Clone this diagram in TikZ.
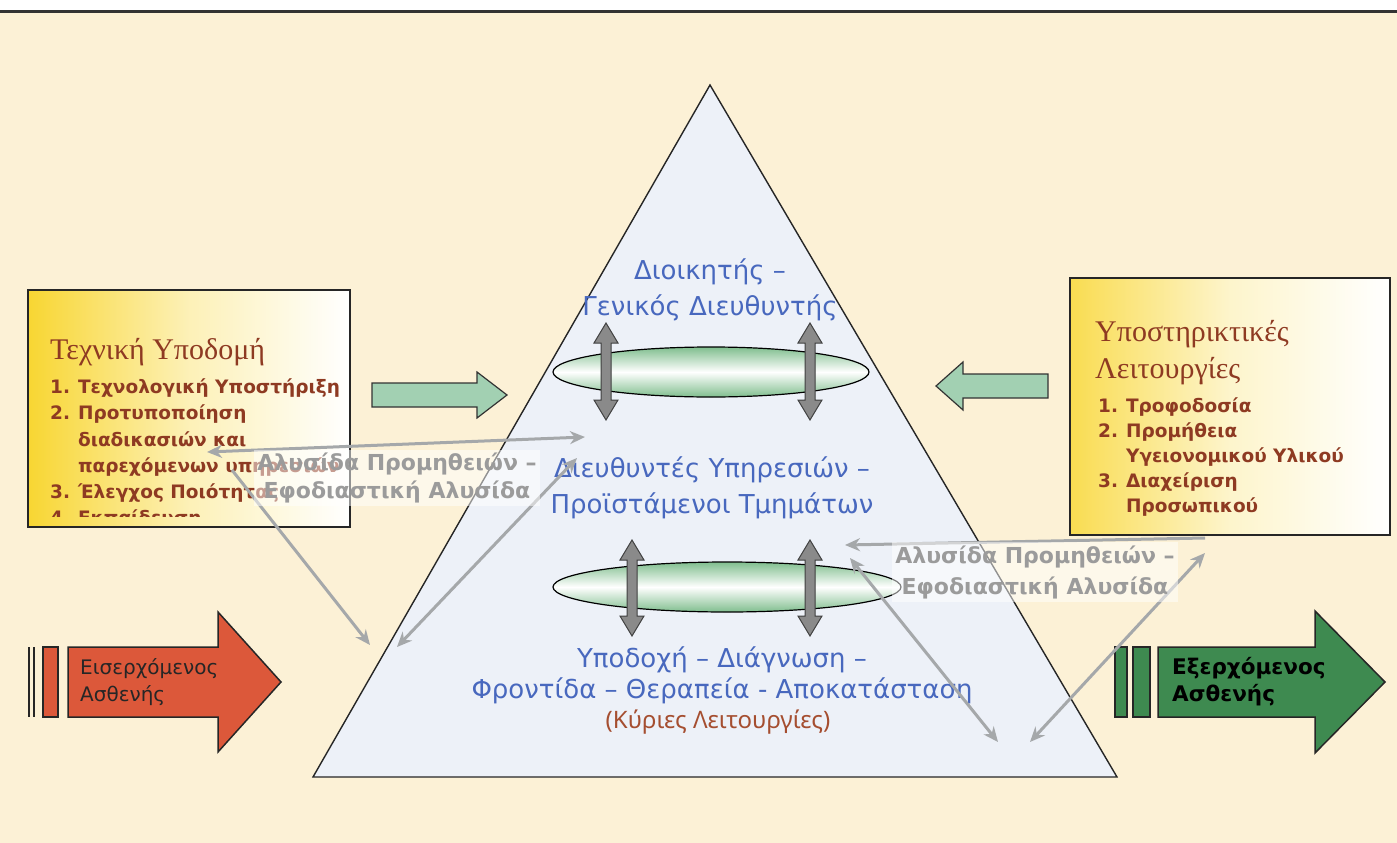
\documentclass[tikz,border=0pt]{standalone}
\usepackage{fontspec}
\setmainfont{DejaVu Sans}
\newfontfamily\headfont{Liberation Serif}
\newfontfamily\notefont{Noto Sans}
\usetikzlibrary{arrows.meta}
\definecolor{ccream}{RGB}{252,241,214}
\definecolor{ctri}{RGB}{237,241,248}
\definecolor{cblue}{RGB}{72,104,190}
\definecolor{cbrown}{RGB}{142,58,34}
\definecolor{cnote}{RGB}{165,78,48}
\definecolor{cyellow}{RGB}{248,214,50}
\definecolor{cmint}{RGB}{162,208,178}
\definecolor{cell}{RGB}{128,190,142}
\definecolor{cdarr}{RGB}{138,138,138}
\definecolor{clink}{RGB}{165,168,170}
\definecolor{clabel}{RGB}{155,155,155}
\definecolor{cred}{RGB}{220,88,58}
\definecolor{cgreen}{RGB}{62,138,80}
\tikzset{hosp/.style={x=1pt,y=-1pt},
  level/.style={text=cblue,align=center,font=\fontsize{26}{36}\selectfont},
  boxhead/.style={text=cbrown,align=left,anchor=west,inner sep=0pt,font=\headfont\fontsize{30}{37}\selectfont},
  boxlist/.style={text=cbrown,anchor=north west,inner sep=0pt},
  chain/.style={text=clabel,align=center,fill=white,fill opacity=0.5,text opacity=1,inner sep=3pt,font=\bfseries\fontsize{22}{28}\selectfont},
  link/.style={clink,line width=3pt},
  patient/.style={align=left,anchor=west,inner sep=0pt,font=\fontsize{20}{27}\selectfont},
  tip/.tip={Stealth[length=15pt,width=13pt]}}
% vertical double block arrow: x, top tip, bottom tip
\newcommand\updown[3]{%
  \filldraw[fill=cdarr,draw=black!75,line width=1pt] (#1,#2) -- ++(12,20) -- ++(-7,0)
    -- (#1+5,#3-20) -- ++(7,0) -- (#1,#3) -- ++(-12,-20) -- ++(7,0)
    -- (#1-5,#2+20) -- ++(-7,0) -- cycle;}

\begin{document}
\begin{tikzpicture}[hosp]
  \useasboundingbox (0,0) rectangle (1397,843);
  \fill[white] (0,0) rectangle (1397,843);
  \fill[ccream] (0,13) rectangle (1397,843);
  \draw[black!80,line width=3pt] (0,12) -- (1397,12);
  % pyramid
  \filldraw[fill=ctri,draw=black!85,line width=1.4pt] (710,85) -- (1117,777) -- (313,777) -- cycle;
  \shade[top color=cell,bottom color=cell,middle color=white,draw=black,line width=1.2pt]
    (711,372) ellipse [x radius=158,y radius=25];
  \shade[top color=cell,bottom color=cell,middle color=white,draw=black,line width=1.2pt]
    (727,587) ellipse [x radius=174,y radius=25];
  \updown{606}{323}{420} \updown{810}{323}{420}
  \updown{632}{540}{636} \updown{810}{540}{636}
  \node[level] (top) at (710,290) {Διοικητής –\\Γενικός Διευθυντής};
  \node[level] (mid) at (712,488) {Διευθυντές Υπηρεσιών –\\Προϊστάμενοι Τμημάτων};
  \node[level,font=\fontsize{26}{31}\selectfont] (base) at (722,675)
    {Υποδοχή – Διάγνωση –\\Φροντίδα – Θεραπεία - Αποκατάσταση};
  \node[text=cnote,font=\notefont\fontsize{24}{28}\selectfont] (main) at (718,722) {(Κύριες Λειτουργίες)};
  % side boxes
  \shade[left color=cyellow,right color=white,middle color=cyellow!35] (28,290) rectangle (350,527);
  \begin{scope}
    \clip (28,290) rectangle (346,516);
    \node[boxhead] (tech) at (50,352) {Τεχνική Υποδομή};
    \node[boxlist] (techlist) at (50,375) {\fontsize{18.5}{26.25}\selectfont\bfseries
      \begin{tabular}{@{}l@{\hspace{8pt}}l@{}}
      1. & Τεχνολογική Υποστήριξη\\
      2. & Προτυποποίηση\\
         & διαδικασιών και\\
         & παρεχόμενων υπηρεσιών\\
      3. & Έλεγχος Ποιότητας\\
      4. & Εκπαίδευση
      \end{tabular}};
  \end{scope}
  \draw[black!85,line width=1.6pt] (28,290) rectangle (350,527);
  \shade[left color=cyellow!85,right color=white,middle color=cyellow!25] (1070,278) rectangle (1390,535);
  \draw[black!85,line width=1.6pt] (1070,278) rectangle (1390,535);
  \node[boxhead] (supp) at (1095,353) {Υποστηρικτικές\\Λειτουργίες};
  \node[boxlist] (supplist) at (1098,395) {\fontsize{18.5}{25}\selectfont\bfseries
    \begin{tabular}{@{}l@{\hspace{8pt}}l@{}}
    1. & Τροφοδοσία\\
    2. & Προμήθεια\\
       & Υγειονομικού Υλικού\\
    3. & Διαχείριση\\
       & Προσωπικού
    \end{tabular}};
  % small green arrows
  \filldraw[fill=cmint,draw=black!80,line width=1.2pt] (372,383) -- (477,383) -- (477,372) -- (507,395)
    -- (477,418) -- (477,407) -- (372,407) -- cycle;
  \filldraw[fill=cmint,draw=black!80,line width=1.2pt] (1048,374) -- (963,374) -- (963,362) -- (936,386)
    -- (963,410) -- (963,398) -- (1048,398) -- cycle;
  % patients
  \draw[black!85,line width=1.5pt] (29,647) -- (29,717) (34,647) -- (34,717);
  \filldraw[fill=cred,draw=black!85,line width=1.5pt] (43,647) rectangle (58,717);
  \filldraw[fill=cred,draw=black!85,line width=1.5pt] (68,647) -- (218,647) -- (218,612) -- (281,682)
    -- (218,752) -- (218,717) -- (68,717) -- cycle;
  \node[patient,text=black!85] (inp) at (80,682) {Εισερχόμενος\\Ασθενής};
  \filldraw[fill=cgreen,draw=black!85,line width=1.5pt] (1115,647) rectangle (1127,717);
  \filldraw[fill=cgreen,draw=black!85,line width=1.5pt] (1133,647) rectangle (1150,717);
  \filldraw[fill=cgreen,draw=black!85,line width=1.5pt] (1158,647) -- (1315,647) -- (1315,611) -- (1385,682)
    -- (1315,753) -- (1315,717) -- (1158,717) -- cycle;
  \node[patient,text=black,font=\bfseries\fontsize{21.5}{27}\selectfont] (outp) at (1172,682) {Εξερχόμενος\\Ασθενής};
  % supply chain links
  \coordinate (l1a) at (207,452); \coordinate (l1b) at (585,437);
  \coordinate (l2a) at (232,470); \coordinate (l2b) at (370,645);
  \coordinate (l3a) at (397,647); \coordinate (l3b) at (577,458);
  \coordinate (r1a) at (1205,538); \coordinate (r1b) at (845,545);
  \coordinate (r2a) at (850,558); \coordinate (r2b) at (998,742);
  \coordinate (r3a) at (1030,742); \coordinate (r3b) at (1205,553);
  \draw[link,tip-tip] (l1a) -- (l1b);
  \draw[link,-tip] (l2a) -- (l2b);
  \draw[link,tip-tip] (l3a) -- (l3b);
  \draw[link,-tip] (r1a) -- (r1b);
  \draw[link,tip-tip] (r2a) -- (r2b);
  \draw[link,tip-tip] (r3a) -- (r3b);
  \node[chain] (chainl) at (397,478) {Αλυσίδα Προμηθειών –\\Εφοδιαστική Αλυσίδα};
  \node[chain,font=\bfseries\fontsize{22}{31}\selectfont] (chainr) at (1035,572) {Αλυσίδα Προμηθειών –\\Εφοδιαστική Αλυσίδα};
\end{tikzpicture}
\end{document}
